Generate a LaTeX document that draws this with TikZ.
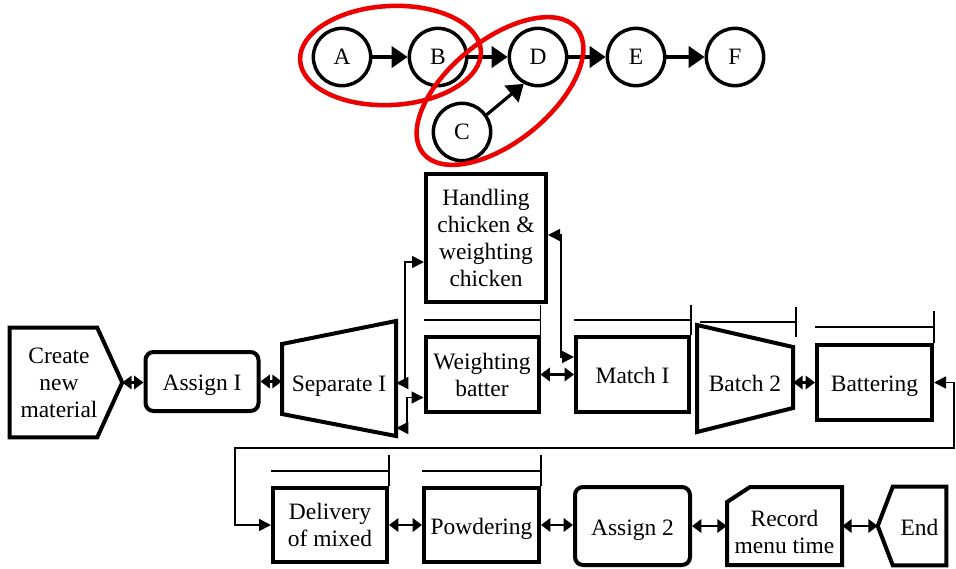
\documentclass[tikz,border=0pt]{standalone}
\usepackage{fontspec}
\setmainfont{Liberation Serif}
\usetikzlibrary{arrows.meta,calc}
\definecolor{ringred}{RGB}{236,0,0}

% rule above a box: horizontal line #2 units above the top edge,
% vertical tick rising #3 units above the top-right corner
\newcommand\barover[3]{%
  \draw[barline] ($(#1.north west)+(0,-#2)$) -- ($(#1.north east)+(0,-#2)$)
                 ($(#1.north east)+(0,-#3)$) -- (#1.north east);}

\begin{document}
\begin{tikzpicture}[x=0.75pt,y=-0.75pt,
  every node/.style={font=\fontsize{17.6}{20.25}\selectfont, align=center, inner sep=0pt},
  box/.style={draw, line width=3pt},
  holder/.style={},
  oneline/.style={text height=14pt, text depth=0pt},
  sz/.style 2 args={minimum width=#1*0.75pt, minimum height=#2*0.75pt},
  outline/.style={line width=3pt, line join=miter},
  barline/.style={line width=1.1pt},
  dbl/.style={line width=2.2pt, {Triangle[length=7pt,width=10pt]}-{Triangle[length=7pt,width=10pt]}},
  thinarrow/.style={line width=1.2pt, {Triangle[length=9pt,width=9pt]}-{Triangle[length=9pt,width=9pt]}},
  circ/.style={draw, circle, line width=2.6pt, minimum size=43pt},
  garrow/.style={line width=2.4pt, -{Triangle[length=12pt,width=16pt]}},
  redring/.style={draw=ringred, line width=3.4pt}]

\useasboundingbox (0,0) rectangle (956,568);

% ---- precedence graph ----
\node[circ] (A) at (342,57) {A};
\node[circ] (B) at (438,57) {B};
\node[circ] (D) at (538,57) {D};
\node[circ] (E) at (636,57) {E};
\node[circ] (F) at (735,57) {F};
\node[circ] (C) at (462,132) {C};
\draw[garrow] (A) -- (B);
\draw[garrow] (B) -- (D);
\draw[garrow] (D) -- (E);
\draw[garrow] (E) -- (F);
\draw[garrow] (C.35) -- (D.242);
\draw[redring, rotate around={3:(390.5,55.5)}] (390.5,55.5) ellipse (90.5 and 49.5);
\draw[redring, rotate around={39:(500,91)}] (500,91) ellipse (99 and 51);

% ---- process row 1 ----
\node[holder, sz={98}{109}] (create) at (59,382.5) {Create\\new\\material};
\coordinate (ctip) at ($(create.east)+(14,0)$);
\draw[outline] (create.north west) -- ($(create.north east)+(-11,0)$) -- (ctip)
  -- ($(create.south east)+(-11,0)$) -- (create.south west) -- cycle;

\node[box, oneline, rounded corners=6pt, sz={113}{59}] (assign1) at (202,381.5) {Assign I};

\node[holder, oneline, sz={114}{115}] (sep) at (339,382) {Separate I};
\draw[outline] ($(sep.center)+(-57,-38)$) -- ($(sep.center)+(57,-61)$)
  -- ($(sep.center)+(57,54)$) -- ($(sep.center)+(-57,32)$) -- cycle;

\node[box, sz={120}{128}] (handling) at (486,237.5) {Handling\\chicken \&\\weighting\\chicken};
\node[box, sz={113}{75}] (wbatter) at (482,374.5) {Weighting\\batter};
\node[box, oneline, sz={113}{75}] (match) at (632.5,374.5) {Match I};

\node[holder, oneline, sz={96}{107}] (batch) at (745,382) {Batch 2};
\draw[outline] ($(batch.center)+(-48,-57)$) -- ($(batch.center)+(48,-35)$)
  -- ($(batch.center)+(48,26)$) -- ($(batch.center)+(-48,50)$) -- cycle;

\node[box, oneline, sz={115}{75}] (battering) at (874.5,382.5) {Battering};

% ---- process row 2 ----
\node[box, sz={114}{74}] (delivery) at (330,525) {Delivery\\of mixed};
\node[box, oneline, sz={115}{74}] (powder) at (481.5,525) {Powdering};
\node[box, oneline, rounded corners=6pt, sz={115}{78}] (assign2) at (632.5,526) {Assign 2};

\node[holder, sz={115}{78}] (record) at (784.5,532) {Record\\menu time};
\draw[outline] ($(record.center)+(-34.5,-45)$) -- ($(record.center)+(57.5,-45)$)
  -- ($(record.center)+(57.5,33)$) -- ($(record.center)+(-57.5,33)$)
  -- ($(record.center)+(-57.5,-30)$) -- cycle;

\node[holder, oneline, sz={53}{78}] (endn) at (919.5,526) {End};
\coordinate (etip) at ($(endn.west)+(-15,0)$);
\draw[outline] (endn.north east) -- (endn.north west) -- (etip)
  -- (endn.south west) -- (endn.south east) -- cycle;

% ---- rules over boxes ----
\barover{wbatter}{15}{30}
\barover{match}{15}{30}
\draw[barline] ($(batch.center)+(-45,-60)$) -- ($(batch.center)+(51,-60)$)
               ($(batch.center)+(51,-75)$) -- ($(batch.center)+(51,-45)$);
\barover{battering}{16}{32}
\barover{delivery}{15}{31}
\barover{powder}{15}{31}

% ---- links between neighbouring steps ----
\draw[dbl] (ctip) -- (ctip -| assign1.west);
\draw[dbl] (assign1.east) -- (assign1.east -| sep.west);
\draw[dbl] (wbatter.east) -- (match.west);
\draw[dbl] (battering.west -| batch.east) -- (battering.west);
\draw[dbl] (delivery.east) -- (powder.west);
\draw[dbl] (powder.east) -- (powder.east -| assign2.west);
\draw[dbl] (assign2.east) -- (assign2.east -| record.west);
\draw[dbl] (etip -| record.east) -- (etip);

% ---- routed links ----
\draw[thinarrow] ($(sep.east)+(0,1)$) -- ++(9,0) |- ($(handling.west)+(0,24.5)$);
\draw[thinarrow] ($(sep.east)+(0,46)$) -- ++(11,0) |- ($(wbatter.west)+(0,23)$);
\draw[thinarrow] ($(handling.east)+(0,-2.5)$) -- ++(13,0) |- ($(match.west)+(0,-17.5)$);
\draw[thinarrow] (battering.east) -- ++(20,0) -- ++(0,65.5)
  -| ($(delivery.west)+(-36,0)$) -- (delivery.west);
\end{tikzpicture}
\end{document}
